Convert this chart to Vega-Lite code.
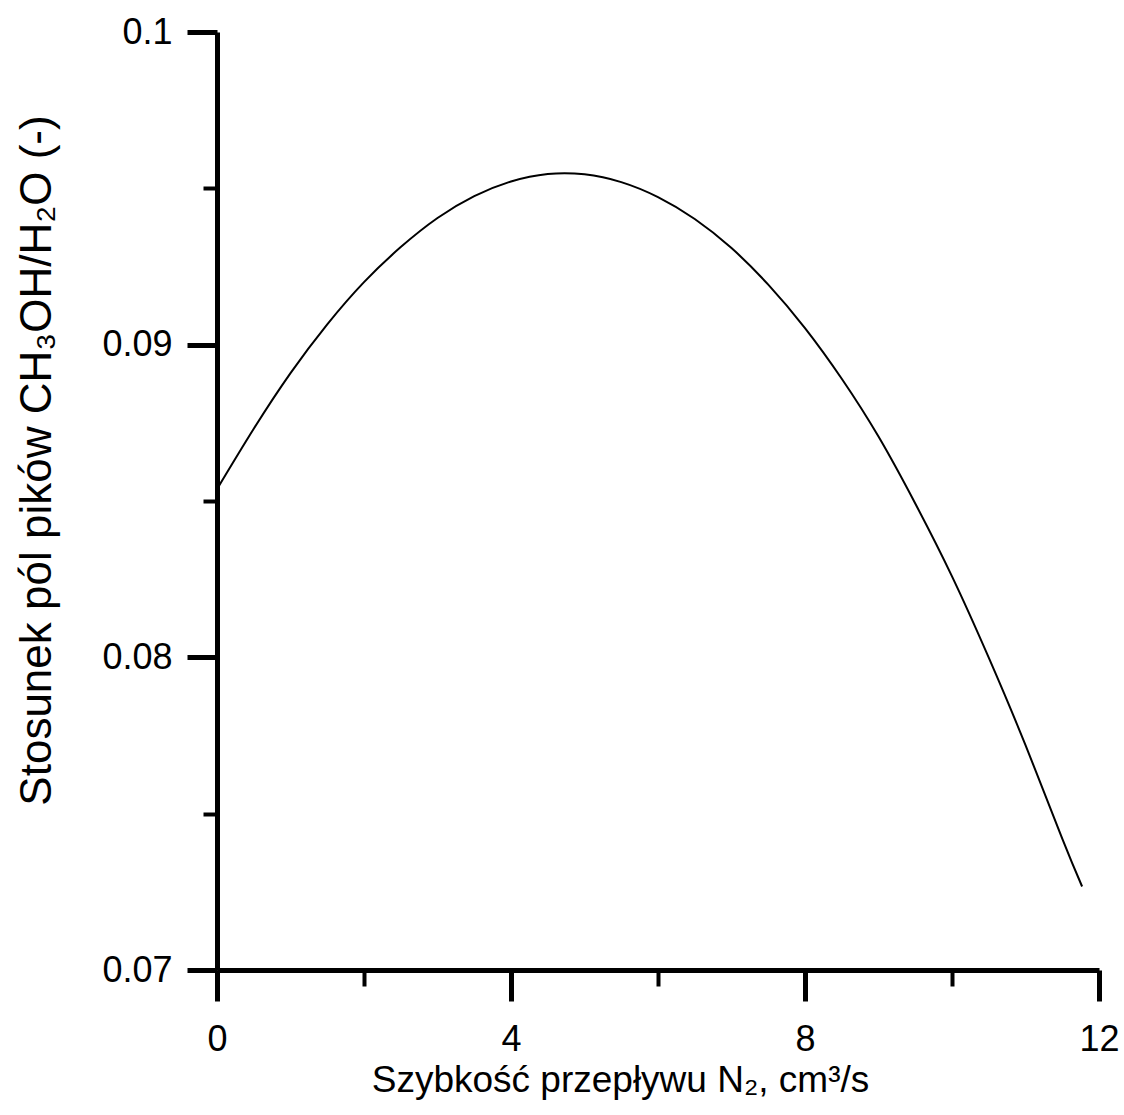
{
  "$schema": "https://vega.github.io/schema/vega-lite/v6.json",
  "width": 882,
  "height": 938,
  "autosize": {"type": "none"},
  "padding": {"left": 217, "top": 32, "right": 25, "bottom": 145},
  "background": "white",
  "config": {
    "view": {"stroke": null},
    "font": "Liberation Sans",
    "axis": {
      "domainColor": "black",
      "tickColor": "black",
      "labelColor": "black",
      "titleColor": "black",
      "grid": false,
      "labelFont": "Liberation Sans",
      "titleFont": "Liberation Sans",
      "titleFontWeight": "normal",
      "labelFontSize": 36,
      "domainWidth": 5
    }
  },
  "data": {
    "values": [
      {"x": 0.0, "y": 0.08538},
      {"x": 0.5, "y": 0.08731},
      {"x": 1.0, "y": 0.08909},
      {"x": 1.5, "y": 0.09065},
      {"x": 2.0, "y": 0.092},
      {"x": 2.5, "y": 0.09312},
      {"x": 3.0, "y": 0.09405},
      {"x": 3.5, "y": 0.09475},
      {"x": 4.0, "y": 0.09522},
      {"x": 4.5, "y": 0.09546},
      {"x": 5.0, "y": 0.09545},
      {"x": 5.5, "y": 0.0952},
      {"x": 6.0, "y": 0.09472},
      {"x": 6.5, "y": 0.09402},
      {"x": 7.0, "y": 0.09309},
      {"x": 7.5, "y": 0.09192},
      {"x": 8.0, "y": 0.09053},
      {"x": 8.5, "y": 0.08891},
      {"x": 9.0, "y": 0.08706},
      {"x": 9.5, "y": 0.08492},
      {"x": 10.0, "y": 0.08259},
      {"x": 10.5, "y": 0.07999},
      {"x": 11.0, "y": 0.07719},
      {"x": 11.5, "y": 0.0742},
      {"x": 11.77, "y": 0.07267}
    ]
  },
  "mark": {"type": "line", "color": "black", "strokeWidth": 2, "interpolate": "natural"},
  "encoding": {
    "x": {
      "field": "x",
      "type": "quantitative",
      "scale": {"domain": [0, 12], "nice": false},
      "axis": {
        "title": "Szybkość przepływu N₂, cm³/s",
        "titleFontSize": 37,
        "titleX": 403,
        "titleAlign": "center",
        "values": [0, 2, 4, 6, 8, 10, 12],
        "labelExpr": "datum.value % 4 === 0 ? datum.label : ''",
        "format": "d",
        "tickSize": {"condition": {"test": "datum.value % 4 === 0", "value": 31}, "value": 16},
        "tickWidth": {"condition": {"test": "datum.value % 4 === 0", "value": 5}, "value": 4},
        "labelPadding": 21,
        "titlePadding": 5,
        "labelFlush": false
      }
    },
    "y": {
      "field": "y",
      "type": "quantitative",
      "scale": {"domain": [0.07, 0.1], "nice": false, "zero": false},
      "axis": {
        "title": "Stosunek pól pików CH₃OH/H₂O (-)",
        "titleFontSize": 44,
        "titleY": 428,
        "titleAlign": "center",
        "values": [0.07, 0.075, 0.08, 0.085, 0.09, 0.095, 0.1],
        "labelExpr": "abs(datum.value*100 - round(datum.value*100)) < 0.01 ? format(datum.value, '.2~f') : ''",
        "tickSize": {"condition": {"test": "abs(datum.value*100 - round(datum.value*100)) < 0.01", "value": 30}, "value": 14},
        "tickWidth": {"condition": {"test": "abs(datum.value*100 - round(datum.value*100)) < 0.01", "value": 5}, "value": 4},
        "labelPadding": 15,
        "titlePadding": 42,
        "labelFlush": false
      }
    }
  }
}
